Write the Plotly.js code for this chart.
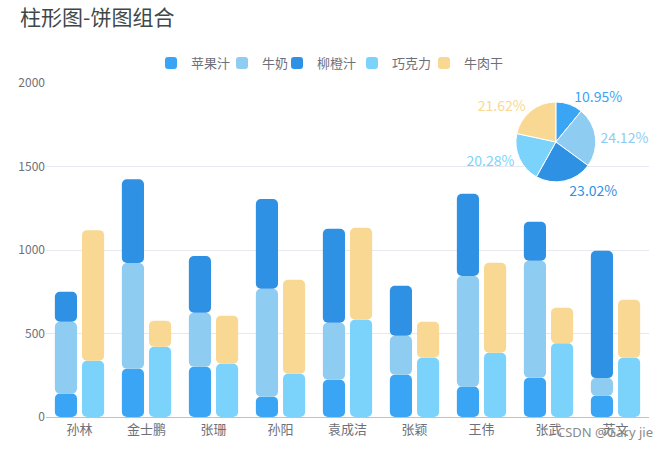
<!DOCTYPE html>
<html>
<head>
<meta charset="utf-8">
<script src="https://cdn.plot.ly/plotly-3.0.1.min.js"></script>
<style>
  html, body { margin: 0; padding: 0; background: #fff; }
  #chart { width: 670px; height: 450px; }
</style>
</head>
<body>
<div id="chart"></div>
<script>
/* data */
const categories = ['孙林', '金士鹏', '张珊', '孙阳', '袁成洁', '张颖', '王伟', '张武', '苏文'];
const appleJuice  = [140, 289, 301, 122, 223, 253, 182, 235, 128];
const milk        = [430, 633, 323, 646, 342, 234, 662, 701, 105];
const orangeJuice = [180, 502, 340, 537, 562, 299, 493, 233, 763];
const chocolate   = [337, 421, 319, 259, 583, 355, 385, 441, 355];
const beefJerky   = [782, 156, 288, 563, 550, 216, 539, 213, 347];

const pieNames  = ['苹果汁', '牛奶', '柳橙汁', '巧克力', '牛肉干'];
const pieShares = [10.95, 24.12, 23.02, 20.28, 21.62];

const COLORS = {
    '苹果汁': '#3aa5f5',
    '牛奶': '#8fccf1',
    '柳橙汁': '#2f91e4',
    '巧克力': '#7bd3fc',
    '牛肉干': '#f8d893'
};
const FONT = '"Noto Sans CJK SC", "Noto Sans", sans-serif';

/* the legend entries sit closer together than plotly spaces them,
   so every entry gets its own legend, placed by hand (left edge, px) */
const LEGEND_LEFT = [151, 222, 277, 352, 424];
const LEGEND_IDS = ['legend', 'legend2', 'legend3', 'legend4', 'legend5'];

function addArrays(a, b) {
    return a.map((v, i) => v + b[i]);
}

/* two stacks per name: bars in the same offsetgroup overlay, so stack by hand with base */
function segment(name, vals, bases, group) {
    return {
        type: 'bar',
        x: categories,
        y: vals,
        base: bases,
        offsetgroup: group,
        name: name,
        legend: LEGEND_IDS[pieNames.indexOf(name)],
        marker: {color: COLORS[name], cornerradius: 5, line: {width: 0}},
        hoverinfo: 'skip'
    };
}

const zeros = categories.map(() => 0);

const traces = [
    segment('苹果汁', appleJuice, zeros, 'a'),
    segment('牛奶', milk, appleJuice, 'a'),
    segment('柳橙汁', orangeJuice, addArrays(appleJuice, milk), 'a'),
    segment('巧克力', chocolate, zeros, 'b'),
    segment('牛肉干', beefJerky, chocolate, 'b')
];

const pieColors = pieNames.map(n => COLORS[n]);
traces.push({
    type: 'pie',
    labels: pieNames,
    values: pieShares,
    sort: false,
    direction: 'clockwise',
    rotation: 0,
    domain: {x: [0.779, 0.912], y: [0.704, 0.943]},
    marker: {colors: pieColors, line: {color: '#fff', width: 1}},
    textposition: 'outside',
    texttemplate: '%{percent:.2%}',
    outsidetextfont: {color: pieColors, size: 14, family: FONT},
    showlegend: false,
    hoverinfo: 'skip'
});

const layout = {
    width: 670,
    height: 450,
    margin: {l: 46, r: 21, t: 83, b: 33},
    paper_bgcolor: '#fff',
    plot_bgcolor: '#fff',
    font: {family: FONT, color: '#6e7079'},
    title: {
        text: '柱形图-饼图组合',
        xref: 'container', yref: 'container',
        x: 0.03, xanchor: 'left',
        y: 0.96, yanchor: 'middle',
        font: {size: 21, color: '#3f4848', family: FONT}
    },
    barmode: 'group',
    bargap: 0.19,
    bargroupgap: 0.185,
    showlegend: true,
    xaxis: {
        type: 'category',
        showgrid: false,
        showline: true,
        linecolor: '#b9c2d0',
        linewidth: 1,
        ticks: '',
        tickfont: {size: 13, color: '#6e7079'},
        fixedrange: true
    },
    yaxis: {
        range: [0, 2000],
        tickvals: [0, 500, 1000, 1500, 2000],
        showgrid: true,
        gridcolor: '#e6e9f1',
        zeroline: false,
        showline: false,
        ticks: '',
        tickfont: {size: 12, color: '#6e7079'},
        fixedrange: true
    },
    annotations: [{
        text: 'CSDN @Gary jie',
        xref: 'paper', yref: 'paper',
        x: 1.01, xanchor: 'right',
        y: -0.045, yanchor: 'middle',
        showarrow: false,
        font: {size: 13, color: '#8a8a8a', family: '"Noto Sans", sans-serif'}
    }]
};

LEGEND_IDS.forEach((id, i) => {
    layout[id] = {
        orientation: 'h',
        xref: 'container', yref: 'container',
        x: LEGEND_LEFT[i] / 670, xanchor: 'left',
        y: 0.86, yanchor: 'middle',
        itemwidth: 30,
        bgcolor: 'rgba(0,0,0,0)',
        font: {size: 13, color: '#6e7079', family: FONT},
        itemclick: false
    };
});

Plotly.newPlot('chart', traces, layout, {displayModeBar: false, staticPlot: true});
</script>
</body>
</html>
